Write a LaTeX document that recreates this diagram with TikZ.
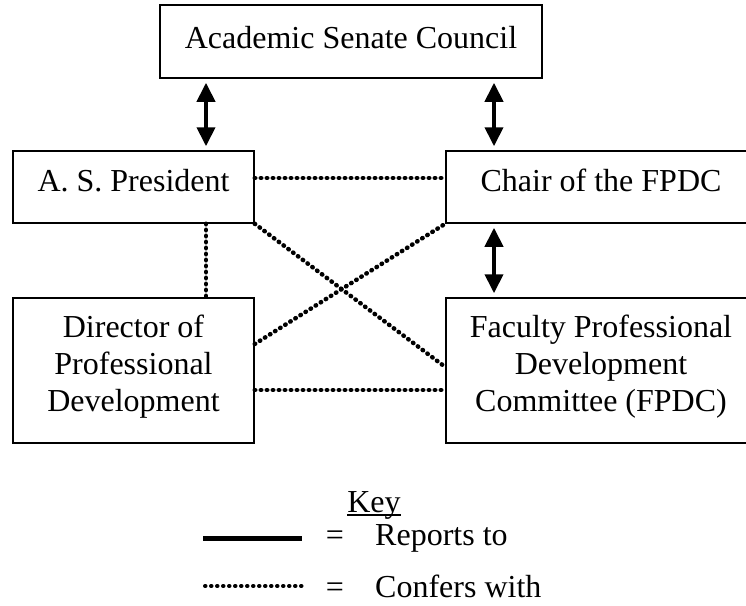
\documentclass[tikz,border=0pt]{standalone}
\usepackage{fontspec}
\setmainfont{Liberation Serif}
\usetikzlibrary{arrows.meta}
\begin{document}
\begin{tikzpicture}[x=1pt,y=-1pt,
  box/.style={draw,line width=1.5pt,align=center,inner sep=0pt,font=\fontsize{32}{37}\selectfont},
  drop/.style={execute at end node={\rule[-#1]{0pt}{#1}}},
  reports/.style={line width=4pt,{Triangle[width=18pt,length=19pt]}-{Triangle[width=18pt,length=19pt]},shorten <=4pt,shorten >=4pt},
  confers/.style={line width=4.5pt,line cap=round,dash pattern=on 0.5pt off 5.5pt},
  keytext/.style={font=\fontsize{32}{37}\selectfont,inner sep=0pt}]
\useasboundingbox (0,0) rectangle (746,605);
\node[box,drop=8pt,minimum width=382pt,minimum height=73pt] (asc) at (351,41.5) {Academic Senate Council};
\node[box,drop=14pt,minimum width=241pt,minimum height=72pt] (asp) at (133.5,187) {A. S. President};
\node[box,drop=14pt,minimum width=310pt,minimum height=72pt] (chair) at (601,187) {Chair of the FPDC};
\node[box,drop=15pt,minimum width=241pt,minimum height=145pt] (dir) at (133.5,370.5) {Director of\\Professional\\Development};
\node[box,drop=15pt,minimum width=310pt,minimum height=145pt] (fpdc) at (601,370.5) {Faculty Professional\\Development\\Committee (FPDC)};
\coordinate (l) at (206,0);
\coordinate (r) at (494,0);
% reports to
\draw[reports] (asc.south -| l) -- (asp.north -| l);
\draw[reports] (asc.south -| r) -- (chair.north -| r);
\draw[reports] (chair.south -| r) -- (fpdc.north -| r);
% confers with
\draw[confers] ([yshift=9pt]asp.east) -- ([yshift=9pt]chair.west);
\draw[confers] (asp.south -| l) -- (dir.north -| l);
\draw[confers] (asp.south east) -- ([yshift=3.5pt]fpdc.west);
\draw[confers] ([yshift=26.5pt]dir.east) -- (chair.south west);
\draw[confers] ([yshift=-19.5pt]dir.east) -- ([yshift=-19.5pt]fpdc.west);
% key
\node[keytext,anchor=base] (key) at (374,512) {Key};
\draw[line width=1.5pt] ([yshift=-3pt]key.base west) -- ([yshift=-3pt]key.base east);
\node[keytext,anchor=base] (eq1) at (335,545) {=};
\node[keytext,anchor=base west] (rep) at (375,545) {Reports to};
\node[keytext,anchor=base] (eq2) at (335,597) {=};
\node[keytext,anchor=base west] (conf) at (375,597) {Confers with};
\coordinate (k1) at (203,538);
\coordinate (k2) at (302,538);
\coordinate (k3) at (205,586);
\coordinate (k4) at (302,586);
\draw[line width=5pt] (k1) -- (k2);
\draw[confers,line width=4pt] (k3) -- (k4);
\end{tikzpicture}
\end{document}
